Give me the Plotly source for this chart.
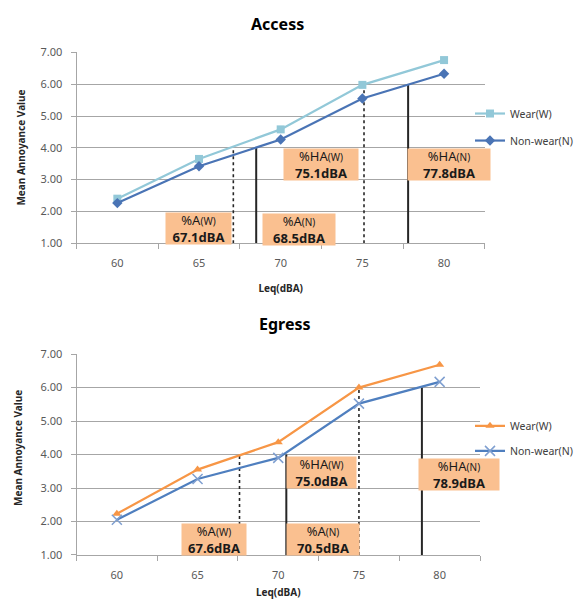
import plotly.graph_objects as go

# ---------------- data ----------------
leq = [60, 65, 70, 75, 80]
tick_labels = ["60", "65", "70", "75", "80"]
y_ticks = [1, 2, 3, 4, 5, 6, 7]

access_wear = [2.40, 3.65, 4.58, 5.98, 6.76]
access_nonwear = [2.26, 3.42, 4.26, 5.55, 6.33]
egress_wear = [2.23, 3.55, 4.37, 6.00, 6.68]
egress_nonwear = [2.05, 3.27, 3.90, 5.52, 6.17]

# threshold levels (dBA) for %A and %HA
access_A_W, access_A_N, access_HA_W, access_HA_N = 67.1, 68.5, 75.1, 77.8
egress_A_W, egress_A_N, egress_HA_W, egress_HA_N = 67.6, 70.5, 75.0, 78.9
A_level = 4.0
HA_level = 6.0

# ---------------- styling ----------------
W, H = 585, 601
XOFF = 8          # horizontal page offset
YOFF, YS = 16, 0.974  # observed vertical page offset / scale
FONT = "Noto Sans"
GRID = "#A6A6A6"
TXT = "#595959"
BOX = "#FAC090"
VLINE = "#262626"

fig = go.Figure()

def px_x(v):
    return (v - XOFF) / W

def px_y(v):
    fy = v / YS - YOFF
    return (H - fy) / H

def add_panel(xa, ya, wear, nonwear, wear_style, non_style, thr, leg_w, leg_n):
    aW, aN, hW, hN = thr
    for xv, top, dash, wd in [(aW, A_level, "dot", 1.6), (aN, A_level, "solid", 2),
                              (hW, HA_level, "dot", 1.6), (hN, HA_level, "solid", 2)]:
        fig.add_trace(go.Scatter(x=[xv, xv], y=[1, top], mode="lines",
                                 line=dict(color=VLINE, width=wd, dash=dash),
                                 xaxis=xa, yaxis=ya, showlegend=False, hoverinfo="skip"))
    fig.add_trace(go.Scatter(x=leq, y=wear, mode="lines+markers", name="Wear(W)",
                             line=dict(color=wear_style[0], width=2.2),
                             marker=wear_style[1], xaxis=xa, yaxis=ya, legend=leg_w,
                             cliponaxis=False))
    fig.add_trace(go.Scatter(x=leq, y=nonwear, mode="lines+markers", name="Non-wear(N)",
                             line=dict(color=non_style[0], width=2.2),
                             marker=non_style[1], xaxis=xa, yaxis=ya, legend=leg_n,
                             cliponaxis=False))

add_panel("x", "y", access_wear, access_nonwear,
          ("#92C8D8", dict(symbol="square", size=8, color="#92C8D8")),
          ("#4A74B5", dict(symbol="diamond", size=8, color="#4A74B5")),
          (access_A_W, access_A_N, access_HA_W, access_HA_N), "legend", "legend2")
add_panel("x2", "y2", egress_wear, egress_nonwear,
          ("#F79646", dict(symbol="triangle-up", size=8, color="#F79646")),
          ("#4F7FBF", dict(symbol="x-thin", size=10, line=dict(width=1.5, color="#7F9FD0"))),
          (egress_A_W, egress_A_N, egress_HA_W, egress_HA_N), "legend3", "legend4")

def xaxis_cfg(standoff):
    return dict(range=[57.5, 82.5], tickvals=leq, ticktext=tick_labels, ticks="",
                ticklabelstandoff=10,
                showgrid=False, showline=True, linecolor=GRID, linewidth=1,
                tickfont=dict(family=FONT, size=11, color=TXT), zeroline=False,
                minor=dict(tick0=57.5, dtick=5, ticks="outside", ticklen=5,
                           tickcolor=GRID, showgrid=False),
                title=dict(text="<b>Leq(dBA)</b>",
                           font=dict(family=FONT, size=10, color="#262626"),
                           standoff=standoff))

ycommon = dict(range=[1, 7], tickvals=y_ticks, tickformat=".2f", ticks="outside", ticklen=5,
               tickcolor=GRID, showgrid=True, gridcolor=GRID, gridwidth=1,
               showline=True, linecolor=GRID, linewidth=1, zeroline=False,
               ticklabelstandoff=6,
               tickfont=dict(family=FONT, size=11, color=TXT))

fig.update_layout(
    width=W, height=H, margin=dict(l=0, r=0, t=0, b=0),
    paper_bgcolor="white", plot_bgcolor="white",
    font=dict(family=FONT),
    xaxis=dict(domain=[px_x(76.5), px_x(484.9)], anchor="y", **xaxis_cfg(15)),
    yaxis=dict(domain=[px_y(242.5), px_y(52)], anchor="x", **ycommon),
    xaxis2=dict(domain=[px_x(76.5), px_x(480)], anchor="y2", **xaxis_cfg(7)),
    yaxis2=dict(domain=[px_y(554), px_y(353.3)], anchor="x2", **ycommon),
)

legfont = dict(family=FONT, size=10.5, color="#404040")
for name, yy in [("legend", 113), ("legend2", 140), ("legend3", 425), ("legend4", 450)]:
    fig.update_layout({name: dict(x=px_x(470), y=px_y(yy), xanchor="left", yanchor="middle",
                                  bgcolor="rgba(0,0,0,0)", font=legfont, borderwidth=0)})

# chart titles
fig.add_annotation(text="<b>Access</b>", x=px_x(277), y=(H - 8) / H, xref="paper", yref="paper",
                   xanchor="center", yanchor="middle", showarrow=False,
                   font=dict(family=FONT, size=16, color="#000000"))
fig.add_annotation(text="<b>Egress</b>", x=px_x(285), y=px_y(323), xref="paper", yref="paper",
                   xanchor="center", yanchor="middle", showarrow=False,
                   font=dict(family=FONT, size=16, color="#000000"))

# y-axis titles
for xx, yy in [(21, 147), (18, 447)]:
    fig.add_annotation(text="<b>Mean Annoyance Value</b>", x=px_x(xx), y=px_y(yy),
                       xref="paper", yref="paper", xanchor="center", yanchor="middle",
                       textangle=-90, showarrow=False,
                       font=dict(family=FONT, size=10, color="#262626"))

def box(label, sub, val, xr, yr, xc, yc, w, h=31):
    txt = (f"{label}<span style='font-size:10px'>({sub})</span><br>"
           f"<b>{val:.1f}dBA</b>")
    fig.add_annotation(text=txt, x=xc, y=yc, xref=xr, yref=yr, showarrow=False,
                       xanchor="center", yanchor="middle", width=w, height=h,
                       bgcolor=BOX, borderpad=0, align="center",
                       font=dict(family=FONT, size=13, color="#1a1a1a"))

box("%A", "W", access_A_W, "x", "y", 64.98, 1.46, 65)
box("%A", "N", access_A_N, "x", "y", 71.12, 1.43, 72)
box("%HA", "W", access_HA_W, "x", "y", 72.48, 3.49, 74)
box("%HA", "N", access_HA_N, "x", "y", 80.30, 3.47, 82)

box("%A", "W", egress_A_W, "x2", "y2", 66.04, 1.46, 64)
box("%A", "N", egress_A_N, "x2", "y2", 72.78, 1.46, 72)
box("%HA", "W", egress_HA_W, "x2", "y2", 72.69, 3.47, 69)
box("%HA", "N", egress_HA_N, "x2", "y2", 81.20, 3.39, 80)

fig.write_html("out.html")
